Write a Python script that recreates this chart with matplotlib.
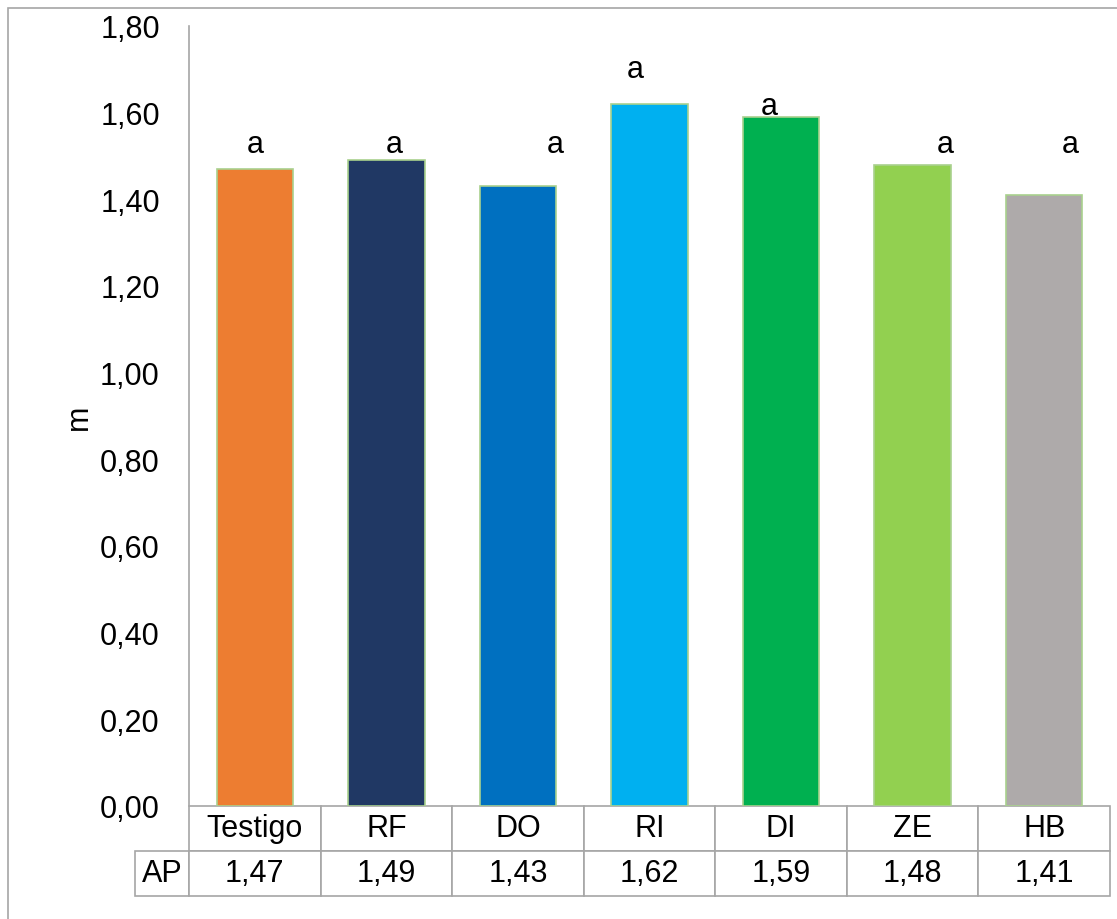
import numpy as np
import matplotlib.pyplot as plt
from matplotlib.patches import Rectangle

plt.rcParams['font.family'] = ['Liberation Sans', 'DejaVu Sans']

# altura de planta (m) por tratamiento
tratamientos = ['Testigo', 'RF', 'DO', 'RI', 'DI', 'ZE', 'HB']
ap = [1.47, 1.49, 1.43, 1.62, 1.59, 1.48, 1.41]
letras = ['a', 'a', 'a', 'a', 'a', 'a', 'a']
colores = ['#ed7d31', '#203864', '#0070c0', '#00b0f0', '#00b050', '#92d050', '#aeaaaa']

# letras colocadas a mano: desplazamiento desde el centro de la barra y altura de la base
letra_dx = [0.0, 0.06, 0.28, -0.11, -0.09, 0.25, 0.20]
letra_y = [1.51, 1.51, 1.51, 1.682, 1.597, 1.51, 1.51]

fs = 22

def coma(v):
    return f'{v:.2f}'.replace('.', ',')

fig = plt.figure(figsize=(11.17, 9.2), dpi=100)
ax = fig.add_axes([189/1117, 113/920, 921/1117, 780/920])

x = np.arange(len(tratamientos))
ax.bar(x, ap, width=0.58, color=colores, edgecolor='#a9d18e', linewidth=1.2)
for i in range(len(letras)):
    ax.text(x[i] + letra_dx[i], letra_y[i], letras[i], ha='center', va='baseline', fontsize=fs)

ax.set_xlim(-0.5, len(tratamientos) - 0.5)
ax.set_ylim(0, 1.8)
yt = np.arange(0, 1.81, 0.2)
ax.set_yticks(yt)
ax.set_yticklabels([coma(v) for v in yt])
ax.tick_params(axis='y', length=0, pad=21, labelsize=fs)
ax.set_xticks([])
for s in ['top', 'right', 'bottom']:
    ax.spines[s].set_visible(False)
ax.spines['left'].set_color('#a6a6a6')
ax.spines['left'].set_linewidth(1.2)

ax.set_ylabel('m', fontsize=fs)
ax.yaxis.set_label_coords(-0.103, 0.5)

# tabla de datos bajo el eje
celdas = [['AP'] + [coma(v) for v in ap]]
w0 = 54/921
tabla = ax.table(cellText=celdas, colLabels=[''] + tratamientos, cellLoc='center',
                 colWidths=[w0] + [1/7]*7, bbox=[-w0, -90/780, 1 + w0, 90/780])
tabla.auto_set_font_size(False)
tabla.set_fontsize(fs)
for (r, c), cell in tabla.get_celld().items():
    cell.set_edgecolor('#a6a6a6')
    cell.set_linewidth(1.2)
    cell.PAD = 0.02
tabla[0, 0].visible_edges = 'open'

# marco exterior
fig.add_artist(Rectangle((8/1117, -0.05), 1.05, 1.05 - 9/920, transform=fig.transFigure,
                         fill=False, edgecolor='#a6a6a6', linewidth=1.2))

fig.savefig('out.png', dpi=100)
